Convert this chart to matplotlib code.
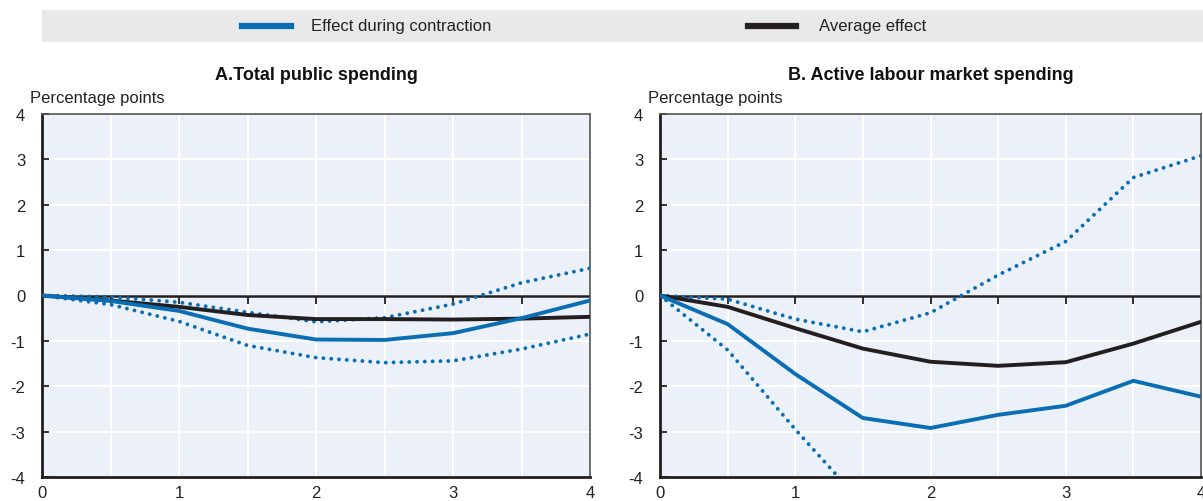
import numpy as np
import matplotlib
matplotlib.use("Agg")
import matplotlib.pyplot as plt
from matplotlib.lines import Line2D

plt.rcParams['font.family'] = ['Liberation Sans Narrow', 'Liberation Sans', 'DejaVu Sans']
plt.rcParams['axes.unicode_minus'] = False

# horizon (years after shock)
years = [0, 0.5, 1, 1.5, 2, 2.5, 3, 3.5, 4]

# A. Total public spending
a_contr = [0, -0.12, -0.34, -0.73, -0.97, -0.98, -0.83, -0.50, -0.11]
a_upper = [0, -0.03, -0.15, -0.37, -0.58, -0.49, -0.19, 0.28, 0.60]
a_lower = [0, -0.20, -0.57, -1.10, -1.37, -1.48, -1.44, -1.18, -0.85]
a_avg = [0, -0.11, -0.25, -0.43, -0.52, -0.52, -0.53, -0.51, -0.47]

# B. Active labour market spending
b_contr = [0, -0.63, -1.73, -2.70, -2.92, -2.63, -2.43, -1.88, -2.23]
b_upper = [0, -0.08, -0.52, -0.80, -0.38, 0.45, 1.19, 2.60, 3.08]
b_lower = [0, -1.20, -2.95, -4.60, -5.40, -6.00, -6.30, -6.10, -6.60]
b_avg = [0, -0.25, -0.72, -1.17, -1.46, -1.55, -1.47, -1.06, -0.58]

titles = ["A.Total public spending", "B. Active labour market spending"]
legend_labels = ["Effect during contraction", "Average effect"]

blue = '#0a6eb4'
dark = '#231f20'
bg = '#ecf0f8'

W, H = 1203, 502
fig = plt.figure(figsize=(W / 100, H / 100), dpi=100)

def fx(px):
    return px / W

def fy(py):
    return 1 - py / H

panels = [
    (42, 590, titles[0], a_contr, a_upper, a_lower, a_avg),
    (660, 1201, titles[1], b_contr, b_upper, b_lower, b_avg),
]

for x0, x1, title, contr, upper, lower, avg in panels:
    ax = fig.add_axes([fx(x0), fy(478), fx(x1 - x0), fy(115) - fy(478)])
    ax.set_facecolor(bg)
    ax.set_xlim(0, 4)
    ax.set_ylim(-4, 4)
    for x in np.arange(0.5, 4, 0.5):
        ax.axvline(x, color='white', lw=1.5, zorder=1)
    for y in range(-3, 4):
        ax.axhline(y, color='white', lw=1.5, zorder=1)
    ax.axhline(0, color=dark, lw=1.8, zorder=2)
    ax.plot(np.arange(0.5, 4, 0.5), np.zeros(7), ls='none', marker=3,
            ms=6, mew=1.3, color=dark, zorder=2, clip_on=False)

    ax.plot(years, upper, color=blue, lw=2.8, ls=(0, (0.01, 2.0)),
            dash_capstyle='round', zorder=3)
    ax.plot(years, lower, color=blue, lw=2.8, ls=(0, (0.01, 2.0)),
            dash_capstyle='round', zorder=3)
    ax.plot(years, avg, color=dark, lw=2.8, zorder=4)
    ax.plot(years, contr, color=blue, lw=2.8, zorder=5)

    ax.set_xticks([0, 1, 2, 3, 4])
    ax.set_yticks(range(-4, 5))
    ax.tick_params(axis='x', length=0, pad=6, labelsize=12, colors='#222222')
    ax.tick_params(axis='y', direction='in', length=5, width=1.3,
                   pad=12, labelsize=12, colors='#222222')
    for side in ['left', 'bottom']:
        ax.spines[side].set_color(dark)
        ax.spines[side].set_linewidth(2)
    for side in ['top', 'right']:
        ax.spines[side].set_color('#555555')
        ax.spines[side].set_linewidth(1.2)

    cx = (x0 + x1) / 2
    fig.text(fx(cx), fy(75), title, ha='center', va='center',
             fontsize=13, fontweight='bold', color='#111111')
    fig.text(fx(x0 - 12), fy(98), "Percentage points", ha='left',
             va='center', fontsize=12, color='#222222')

# legend bar
lax = fig.add_axes([fx(42), fy(43), fx(W - 42), fy(11) - fy(43)])
lax.set_facecolor('#e9e9e9')
lax.set_xlim(42, W)
lax.set_ylim(0, 1)
lax.set_xticks([])
lax.set_yticks([])
for s in lax.spines.values():
    s.set_visible(False)
lax.add_line(Line2D([242, 291], [0.5, 0.5], color=blue, lw=4.5))
lax.text(311, 0.5, legend_labels[0], va='center', ha='left', fontsize=12,
         color='#222222')
lax.add_line(Line2D([748, 796], [0.5, 0.5], color=dark, lw=4.5))
lax.text(819, 0.5, legend_labels[1], va='center', ha='left', fontsize=12,
         color='#222222')

fig.savefig('out.png', dpi=100)
